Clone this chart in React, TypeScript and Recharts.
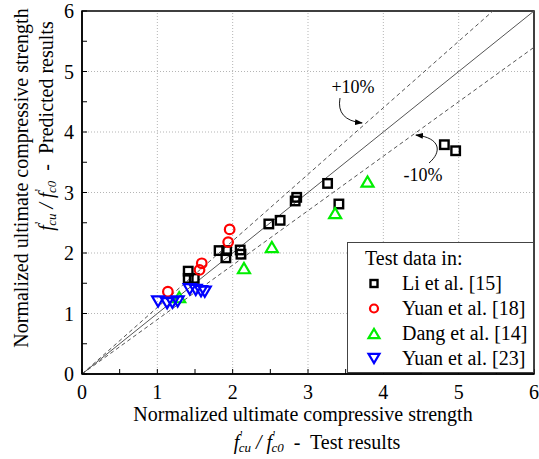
import React from 'react';
import { ScatterChart, Scatter, XAxis, YAxis, ReferenceLine, ReferenceArea, Legend } from 'recharts';

const SERIF = '"Liberation Serif", "DejaVu Serif", "Times New Roman", serif';

// axis ticks (minor ticks at .5, labels only on integers)
const axisTicks = [0, 0.5, 1, 1.5, 2, 2.5, 3, 3.5, 4, 4.5, 5, 5.5, 6];
const gridValues = [1, 2, 3, 4, 5];

// Li et al. [15]
const liX = [4.81, 4.96, 3.26, 2.85, 2.83, 3.41, 2.63, 2.48, 1.82, 1.92, 1.91, 2.1, 2.11, 1.41, 1.41, 1.49];
const liY = [3.79, 3.69, 3.15, 2.92, 2.86, 2.81, 2.54, 2.48, 2.04, 2.04, 1.92, 2.05, 1.98, 1.7, 1.58, 1.58];
// Yuan et al. [18]
const yuan18X = [1.14, 1.96, 1.94, 1.59, 1.56];
const yuan18Y = [1.36, 2.39, 2.18, 1.83, 1.72];
// Dang et al. [14]
const dangX = [3.79, 3.36, 2.52, 2.15, 1.29];
const dangY = [3.18, 2.66, 2.1, 1.75, 1.27];
// Yuan et al. [23]
const yuan23X = [1.01, 1.13, 1.2, 1.27, 1.43, 1.51, 1.58, 1.63];
const yuan23Y = [1.2, 1.17, 1.18, 1.2, 1.4, 1.39, 1.37, 1.36];

const toPoints = (xs: number[], ys: number[]) => xs.map((x, i) => ({ x, y: ys[i] }));

const li = toPoints(liX, liY);
const yuan18 = toPoints(yuan18X, yuan18Y);
const dang = toPoints(dangX, dangY);
const yuan23 = toPoints(yuan23X, yuan23Y);

const Square = ({ cx, cy, s = 8.5 }: any) => (
  <rect x={cx - s / 2} y={cy - s / 2} width={s} height={s} fill="none" stroke="#000" strokeWidth={2.4} />
);
const Circle = ({ cx, cy, r = 4.8 }: any) => (
  <circle cx={cx} cy={cy} r={r} fill="none" stroke="#ff0000" strokeWidth={2.2} />
);
const TriUp = ({ cx, cy, w = 12 }: any) => {
  const h = w * 0.85;
  return (
    <polygon
      points={`${cx - w / 2},${cy + h / 2} ${cx + w / 2},${cy + h / 2} ${cx},${cy - h / 2}`}
      fill="none"
      stroke="#00ee00"
      strokeWidth={2.2}
    />
  );
};
const TriDown = ({ cx, cy, w = 12 }: any) => {
  const h = w * 0.85;
  return (
    <polygon
      points={`${cx - w / 2},${cy - h / 2} ${cx + w / 2},${cy - h / 2} ${cx},${cy + h / 2}`}
      fill="none"
      stroke="#0000ff"
      strokeWidth={2.2}
    />
  );
};

const legendItems = [
  { name: 'Li et al. [15]', Marker: Square, size: { s: 7 } },
  { name: 'Yuan et al. [18]', Marker: Circle, size: { r: 4 } },
  { name: 'Dang et al. [14]', Marker: TriUp, size: { w: 11 } },
  { name: 'Yuan et al. [23]', Marker: TriDown, size: { w: 11 } },
];

const renderLegend = () => (
  <div
    style={{
      width: 187,
      height: 131,
      boxSizing: 'border-box',
      border: '1px solid #444',
      background: '#fff',
      fontFamily: SERIF,
      fontSize: 20,
      color: '#000',
      paddingTop: 3,
    }}
  >
    <div style={{ height: 25, lineHeight: '25px', paddingLeft: 17, whiteSpace: 'nowrap' }}>Test data in:</div>
    {legendItems.map(({ name, Marker, size }) => (
      <div key={name} style={{ height: 25, display: 'flex', alignItems: 'center', whiteSpace: 'nowrap' }}>
        <svg width={52} height={25} style={{ flex: 'none' }}>
          <Marker cx={26} cy={12.5} {...size} />
        </svg>
        <span style={{ lineHeight: '25px', marginLeft: 2 }}>{name}</span>
      </div>
    ))}
  </div>
);

// f'cu / f'c0 with prime + subscript
const Ratio = ({ tail }: { tail: string }) => (
  <>
    <tspan fontStyle="italic">f</tspan>
    <tspan fontSize={13} dx={1} dy={-8}>'</tspan>
    <tspan fontSize={13} fontStyle="italic" dx={-4} dy={13}>cu</tspan>
    <tspan fontStyle="italic" dy={-5}> / </tspan>
    <tspan fontStyle="italic">f</tspan>
    <tspan fontSize={13} dx={1} dy={-8}>'</tspan>
    <tspan fontSize={13} fontStyle="italic" dx={-4} dy={13}>c0</tspan>
    <tspan dy={-5}>{tail}</tspan>
  </>
);

const fmt = (v: number) => (Number.isInteger(v) ? String(v) : '');
const tickStyle = { fill: '#000', fontSize: 20, fontFamily: SERIF };

export default function App() {
  return (
    <div style={{ position: 'absolute', left: 0, top: 0, width: 539, height: 459, background: '#fff', fontFamily: SERIF }}>
      <ScatterChart width={539} height={459} margin={{ top: 11, right: 5, bottom: 55, left: 22 }}>
        <XAxis
          type="number"
          dataKey="x"
          domain={[0, 6]}
          ticks={axisTicks}
          interval={0}
          tickFormatter={fmt}
          tickSize={-5}
          tickMargin={16}
          tick={tickStyle}
          axisLine={{ stroke: '#000', strokeWidth: 1.5 }}
          tickLine={{ stroke: '#000' }}
          height={30}
          allowDataOverflow
        />
        <YAxis
          type="number"
          dataKey="y"
          domain={[0, 6]}
          ticks={axisTicks}
          interval={0}
          tickFormatter={fmt}
          tickSize={-5}
          tickMargin={13}
          tick={tickStyle}
          axisLine={{ stroke: '#000', strokeWidth: 1.5 }}
          tickLine={{ stroke: '#000' }}
          width={60}
          allowDataOverflow
        />
        {gridValues.map(v => (
          <ReferenceLine key={`gx${v}`} x={v} stroke="#b5b5b5" strokeDasharray="1 2" />
        ))}
        {gridValues.map(v => (
          <ReferenceLine key={`gy${v}`} y={v} stroke="#b5b5b5" strokeDasharray="1 2" />
        ))}
        <ReferenceArea x1={0} x2={6} y1={0} y2={6} fill="none" stroke="#000" strokeWidth={1.5} />
        <ReferenceLine segment={[{ x: 0, y: 0 }, { x: 6, y: 6 }]} stroke="#555" strokeWidth={1} />
        <ReferenceLine segment={[{ x: 0, y: 0 }, { x: 6 / 1.1, y: 6 }]} stroke="#555" strokeWidth={1} strokeDasharray="4 3" />
        <ReferenceLine segment={[{ x: 0, y: 0 }, { x: 6, y: 5.4 }]} stroke="#555" strokeWidth={1} strokeDasharray="4 3" />
        <Scatter name="Li et al. [15]" data={li} shape={(p: any) => <Square cx={p.cx} cy={p.cy} />} isAnimationActive={false} />
        <Scatter name="Yuan et al. [18]" data={yuan18} shape={(p: any) => <Circle cx={p.cx} cy={p.cy} />} isAnimationActive={false} />
        <Scatter name="Dang et al. [14]" data={dang} shape={(p: any) => <TriUp cx={p.cx} cy={p.cy} />} isAnimationActive={false} />
        <Scatter name="Yuan et al. [23]" data={yuan23} shape={(p: any) => <TriDown cx={p.cx} cy={p.cy} />} isAnimationActive={false} />
        <Legend
          layout="vertical"
          align="center"
          verticalAlign="middle"
          content={renderLegend}
          wrapperStyle={{ left: 347, top: 242, width: 187, height: 131 }}
        />
      </ScatterChart>
      <svg
        width={539}
        height={459}
        style={{ position: 'absolute', left: 0, top: 0, pointerEvents: 'none' }}
        fontFamily={SERIF}
      >
        <defs>
          <marker id="ah" markerWidth="8" markerHeight="6" refX="7" refY="3" orient="auto" markerUnits="userSpaceOnUse">
            <path d="M0,0 L8,3 L0,6 z" fill="#000" />
          </marker>
        </defs>
        <text x={353} y={87} fontSize={18} textAnchor="middle" dominantBaseline="central">+10%</text>
        <path d="M340,98 Q336,120 362,123" fill="none" stroke="#000" strokeWidth={0.9} markerEnd="url(#ah)" />
        <text x={423} y={175} fontSize={18} textAnchor="middle" dominantBaseline="central">-10%</text>
        <path d="M429,163 C442,152 441,138 416,135" fill="none" stroke="#000" strokeWidth={0.9} markerEnd="url(#ah)" />

        <text x={303} y={414} fontSize={20} textAnchor="middle" dominantBaseline="central">
          Normalized ultimate compressive strength
        </text>
        <text x={317} y={442} fontSize={20} textAnchor="middle" dominantBaseline="central" style={{ whiteSpace: 'pre' }}>
          <Ratio tail={'  -  Test results'} />
        </text>
        <text x={21} y={178} fontSize={20} textAnchor="middle" dominantBaseline="central" transform="rotate(-90 21 178)">
          Normalized ultimate compressive strength
        </text>
        <text x={46} y={126} fontSize={20} textAnchor="middle" dominantBaseline="central" transform="rotate(-90 46 126)" style={{ whiteSpace: 'pre' }}>
          <Ratio tail={'  -  Predicted results'} />
        </text>
      </svg>
    </div>
  );
}
